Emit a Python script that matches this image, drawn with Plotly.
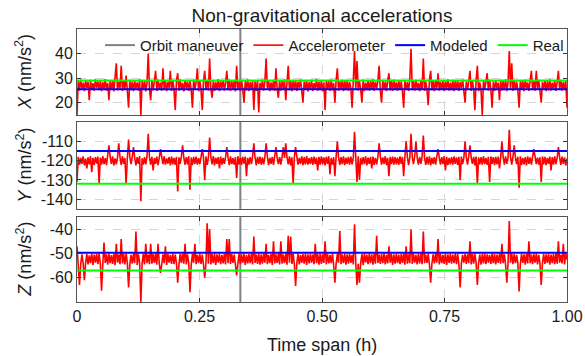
import numpy as np
import plotly.graph_objects as go
from plotly.subplots import make_subplots

# ---------------- data ----------------
acc_x = [15, 28.9, 24.9, 29.4, 25.6, 28.2, 24.7, 29.1, 26.0, 28.6, 21, 29.3, 25.2, 28.0, 24.8, 29.5, 25.9, 28.7, 25.1, 29.0,
         24.7, 28.4, 25.5, 29.6, 24.9, 28.1, 21, 29.2, 25.3, 28.8, 24.6, 29.4, 36, 25.0, 28.5, 25.7, 35, 24.8, 29.1, 25.4,
         31, 24.9, 18, 29.3, 25.1, 28.6, 24.7, 29.0, 25.8, 28.3, 24.9, 29.5, 15, 28.8, 25.2, 29.2, 24.6, 28.0, 40, 25.5,
         21, 29.1, 25.0, 28.7, 33, 24.8, 29.4, 25.6, 28.2, 24.9, 34, 25.3, 29.0, 24.7, 28.5, 25.9, 33, 24.8, 29.3, 25.2,
         17, 28.9, 32, 24.9, 29.5, 25.4, 28.1, 24.6, 29.2, 25.8, 28.6, 24.8, 29.0, 25.1, 18, 29.4, 25.5, 28.3, 34, 24.7,
         29.1, 25.0, 17, 28.8, 33, 25.3, 29.3, 24.9, 38, 25.6, 22, 29.0, 24.8, 28.4, 25.2, 29.6, 24.7, 28.7, 25.9, 29.2,
         24.9, 28.2, 33, 25.1, 29.4, 24.8, 28.9, 25.4, 29.0, 24.6, 35, 25.7, 28.5, 24.9, 29.3, 25.2, 20, 28.8, 25.0, 29.5,
         24.7, 28.4, 25.5, 29.1, 17, 28.7, 24.8, 29.2, 16, 28.1, 25.3, 29.4, 24.9, 28.6, 38, 25.8, 29.0, 24.7, 28.3, 25.1,
         29.3, 24.8, 34, 25.4, 22, 29.1, 24.9, 28.8, 25.6, 29.5, 21, 28.2, 35, 25.0, 29.0, 24.7, 28.9, 25.3, 29.2, 24.8,
         28.5, 25.9, 29.4, 24.9, 20, 28.7, 25.2, 29.1, 24.6, 28.4, 25.5, 29.3, 24.8, 28.0, 25.7, 29.6, 24.9, 28.6, 25.1, 29.0,
         24.7, 28.3, 17, 29.2, 25.4, 28.8, 24.8, 29.4, 25.0, 28.1, 20, 29.1, 34, 24.9, 28.6, 25.6, 29.3, 24.7, 28.9, 25.2,
         29.0, 24.8, 28.4, 25.8, 18, 29.2, 41, 25.3, 37, 24.9, 28.7, 25.5, 20, 29.4, 24.7, 28.2, 25.1, 29.1, 24.9, 28.8,
         25.4, 29.5, 24.8, 28.5, 25.7, 29.0, 35, 24.9, 20, 29.3, 25.2, 28.6, 24.7, 29.1, 32, 25.0, 28.9, 24.8, 29.4, 25.6,
         28.3, 24.9, 29.2, 25.3, 28.7, 24.6, 18, 29.0, 25.5, 28.4, 24.8, 29.6, 42, 25.1, 28.8, 24.9, 29.3, 25.7, 28.1, 24.7,
         29.1, 25.4, 38, 24.8, 28.6, 25.2, 19, 29.4, 33, 25.0, 28.9, 24.7, 29.2, 25.8, 32, 24.9, 28.5, 25.3, 29.0, 24.8,
         28.7, 25.6, 29.5, 24.9, 28.2, 25.1, 29.3, 24.7, 28.8, 25.5, 29.1, 24.8, 28.4, 25.9, 29.4, 24.9, 20, 28.6, 25.2, 29.0,
         33, 24.8, 28.9, 25.4, 17, 29.2, 35, 24.7, 28.3, 25.0, 15, 29.1, 25.6, 28.7, 32, 24.9, 29.4, 25.3, 18, 28.5,
         24.8, 29.0, 25.7, 28.2, 21, 29.3, 24.9, 28.8, 25.1, 29.5, 24.7, 28.4, 41, 25.5, 36, 24.8, 29.1, 25.2, 28.6, 24.9,
         18, 29.2, 25.4, 28.9, 24.7, 29.4, 25.8, 28.3, 24.8, 29.0, 33, 25.1, 28.7, 24.9, 33, 25.6, 29.3, 24.8, 20, 28.5,
         25.3, 29.1, 24.7, 28.8, 25.0, 29.5, 24.9, 28.2, 25.7, 29.0, 24.8, 28.6, 33, 25.4, 29.3, 24.9, 28.4, 25.2, 29.0, 18]

acc_y = [-131, -118.0, -122.1, -118.6, -121.7, -117.8, -122.4, -118.9, -124, -118.3, -121.9, -117.7, -126, -118.5, -122.2, -118.1, -121.5, -117.9, -132, -118.4,
         -122.0, -117.6, -121.8, -118.7, -122.3, -118.2, -112, -118.0, -121.6, -117.8, -122.5, -118.8, -121.9, -118.3, -111, -118.1, -122.2, -117.7, -121.7, -118.6,
         -132, -118.4, -109, -118.0, -121.8, -117.9, -113, -118.5, -122.4, -118.2, -121.6, -117.6, -141, -118.7, -122.0, -118.1, -121.9, -117.8, -106, -118.3,
         -122.1, -118.0, -125, -118.6, -121.7, -117.9, -122.3, -118.4, -114, -118.2, -121.8, -117.7, -122.0, -118.8, -121.5, -118.1, -122.4, -117.9, -121.9, -118.5,
         -122.2, -118.0, -136, -118.3, -121.6, -117.8, -112, -118.6, -122.1, -118.2, -121.9, -117.7, -135, -118.4, -122.3, -118.0, -121.7, -117.9, -122.0, -118.7,
         -121.8, -118.1, -114, -118.3, -130, -117.8, -122.2, -118.5, -108, -118.0, -121.9, -117.6, -122.4, -118.4, -121.6, -118.2, -124, -117.9, -122.0, -118.6,
         -121.7, -118.0, -113, -118.3, -122.3, -117.8, -121.8, -118.7, -122.1, -118.1, -129, -117.7, -121.9, -118.4, -122.2, -118.0, -121.5, -117.9, -128, -118.5,
         -122.0, -118.2, -121.8, -117.6, -111, -118.6, -122.4, -118.0, -121.7, -117.9, -122.1, -118.3, -121.9, -118.1, -111, -117.8, -122.3, -118.5, -121.6, -118.0,
         -122.2, -117.7, -113, -118.4, -121.8, -118.1, -122.0, -117.9, -113, -118.6, -111, -118.2, -121.9, -117.8, -122.4, -118.3, -132, -118.0, -113, -117.9,
         -122.1, -118.5, -121.7, -117.8, -122.3, -118.2, -121.9, -117.6, -122.0, -118.7, -121.6, -118.1, -122.2, -117.9, -121.8, -118.4, -125, -118.0, -122.1, -117.8,
         -121.9, -118.3, -122.4, -118.0, -121.7, -117.7, -127, -118.6, -122.0, -118.2, -128, -117.9, -110, -118.4, -122.2, -118.1, -121.8, -117.8, -122.3, -118.5,
         -121.6, -118.0, -122.1, -117.9, -121.9, -118.3, -105, -118.1, -131, -117.7, -130, -118.6, -122.0, -118.2, -121.8, -117.8, -122.4, -118.4, -121.7, -118.0,
         -124, -117.9, -122.2, -118.5, -121.9, -118.1, -111, -117.8, -122.0, -118.3, -121.6, -117.7, -122.3, -118.6, -128, -118.0, -121.8, -117.9, -122.1, -118.2,
         -121.9, -118.4, -122.2, -117.8, -121.7, -118.1, -128, -118.0, -110, -117.9, -122.3, -118.5, -106, -118.2, -121.8, -117.7, -110, -118.4, -122.0, -118.1,
         -121.6, -117.9, -107, -118.3, -122.2, -118.0, -121.9, -117.8, -122.4, -118.6, -121.7, -118.1, -122.0, -117.9, -114, -118.4, -122.1, -118.2, -121.8, -117.7,
         -125, -118.0, -122.3, -118.5, -121.9, -118.1, -122.0, -117.8, -121.6, -118.3, -122.2, -118.0, -130, -117.9, -121.8, -118.6, -110, -118.2, -122.1, -117.8,
         -112, -118.4, -121.7, -118.0, -122.4, -117.9, -132, -118.3, -121.9, -118.1, -122.0, -117.7, -121.8, -118.5, -122.2, -118.0, -131, -117.8, -121.6, -118.2,
         -122.3, -118.0, -121.9, -117.9, -124, -118.4, -110, -118.1, -122.1, -117.8, -121.7, -118.6, -104, -118.2, -122.0, -117.9, -112, -118.3, -121.8, -118.0,
         -134, -117.7, -122.2, -118.5, -121.9, -118.1, -122.4, -117.8, -121.6, -118.3, -122.0, -118.0, -114, -117.9, -121.8, -118.4, -122.1, -118.2, -131, -117.8,
         -121.9, -118.0, -122.3, -118.5, -121.7, -117.9, -125, -118.1, -122.0, -117.8, -121.8, -118.4, -113, -118.2, -122.2, -117.9, -121.6, -118.3, -122.5, -119.0]

acc_z = [-47, -54.3, -63, -54.6, -50.4, -53.9, -61, -54.1, -50.2, -54.5, -50.8, -54.0, -50.1, -54.7, -50.5, -53.8, -50.3, -54.4, -50.0, -54.2,
         -65.4, -54.5, -45.5, -53.9, -50.4, -54.6, -50.1, -54.0, -50.7, -54.3, -50.2, -54.8, -46, -53.8, -50.5, -54.4, -44, -54.1, -50.3, -54.5,
         -50.0, -53.9, -64, -54.6, -50.6, -54.2, -50.2, -54.0, -41, -54.7, -50.4, -53.8, -70, -54.3, -50.1, -54.5, -46, -54.0, -50.5, -54.4,
         -46, -54.2, -50.3, -53.9, -50.0, -54.6, -46, -54.1, -58, -54.5, -50.4, -54.0, -47, -54.7, -50.2, -53.8, -50.6, -54.3, -50.1, -54.4,
         -50.5, -54.0, -62, -54.6, -50.3, -53.9, -50.0, -54.2, -46, -54.5, -50.4, -54.1, -66, -54.7, -50.2, -53.8, -46, -54.4, -50.6, -54.0,
         -50.1, -54.3, -50.5, -54.6, -60, -53.9, -37.5, -54.2, -40, -54.5, -50.3, -54.0, -50.0, -54.7, -50.4, -53.8, -50.2, -54.4, -50.6, -54.1,
         -50.1, -54.5, -44, -54.0, -44, -54.3, -50.3, -53.9, -50.5, -54.6, -59, -54.2, -50.0, -54.4, -50.4, -53.8, -50.2, -54.7, -50.6, -54.1,
         -50.3, -54.0, -50.1, -54.5, -43, -53.9, -50.5, -54.3, -50.0, -54.6, -50.4, -54.2, -50.2, -53.8, -46, -54.4, -50.6, -54.0, -50.3, -54.7,
         -45, -54.1, -50.4, -53.9, -50.1, -54.5, -45, -54.2, -50.5, -54.0, -50.2, -54.6, -42.7, -53.8, -43, -54.3, -50.3, -54.4, -63.4, -54.0,
         -50.1, -54.5, -50.6, -53.9, -50.3, -54.2, -50.0, -54.7, -50.4, -54.1, -50.2, -53.8, -50.5, -54.4, -46, -54.0, -50.3, -54.6, -50.1, -54.3,
         -50.4, -53.9, -45, -54.5, -50.2, -54.1, -50.6, -54.0, -50.0, -54.7, -62, -54.2, -50.3, -53.8, -40.7, -54.4, -50.5, -54.0, -50.1, -54.6,
         -50.4, -54.2, -50.2, -53.9, -50.6, -54.5, -38, -54.0, -63, -54.3, -62, -54.1, -50.3, -54.7, -50.0, -53.8, -50.5, -54.4, -50.2, -54.0,
         -50.4, -54.6, -50.1, -54.2, -42.7, -53.9, -50.5, -54.3, -50.3, -54.0, -50.0, -54.5, -50.6, -54.1, -47, -53.8, -50.2, -54.7, -50.4, -54.2,
         -50.1, -54.0, -50.5, -54.4, -50.3, -53.9, -50.0, -54.6, -47, -54.2, -50.4, -54.0, -40, -54.3, -50.2, -53.8, -50.6, -54.5, -50.1, -54.1,
         -50.3, -54.4, -41, -54.0, -50.5, -53.9, -50.2, -54.6, -62, -54.2, -50.4, -54.1, -50.0, -53.8, -44, -54.5, -50.3, -54.0, -50.6, -54.3,
         -50.1, -54.7, -50.4, -53.9, -50.2, -54.2, -50.5, -54.0, -50.0, -54.4, -50.3, -54.6, -64, -54.1, -50.6, -53.8, -50.2, -54.3, -50.4, -54.0,
         -45, -54.5, -50.1, -54.2, -50.3, -53.9, -63, -54.0, -50.5, -54.6, -50.2, -54.1, -50.0, -54.4, -50.4, -53.8, -50.6, -54.3, -50.1, -54.0,
         -50.3, -54.5, -50.5, -53.9, -50.2, -54.2, -46, -54.0, -50.4, -54.7, -62, -54.1, -36.6, -53.8, -50.0, -54.4, -50.3, -54.0, -50.6, -54.2,
         -65.7, -54.3, -50.1, -53.9, -50.4, -54.6, -50.2, -54.1, -45, -54.0, -50.5, -54.4, -50.3, -53.8, -50.0, -54.5, -50.6, -54.2, -63, -54.0,
         -50.2, -54.3, -50.4, -53.9, -50.1, -54.6, -50.5, -54.0, -50.3, -54.4, -50.0, -54.2, -45, -53.8, -50.6, -54.1, -46, -54.5, -50.2, -52.5]

modeled = [25.5, -115, -49.7]
real = [29.0, -132, -57.0]
maneuver_time = 1 / 3
axis_names = ["X", "Y", "Z"]
y_ranges = [[15, 50], [-145, -100], [-70, -35]]
y_ticks = [[20, 30, 40], [-140, -130, -120, -110], [-60, -50, -40]]
y_ticktext = [["20", "30", "40"], ["-140", "-130", "-120", "-110"], ["-60", "-50", "-40"]]
x_tickvals = [0, 0.25, 0.5, 0.75, 1.0]
x_ticktext = ["0", "0.25", "0.50", "0.75", "1.00"]

time_h = np.linspace(0, 1, len(acc_x))
series = [acc_x, acc_y, acc_z]

# ---------------- figure ----------------
fig = make_subplots(rows=3, cols=1, shared_xaxes=True)

for k in range(3):
    row = k + 1
    show = (k == 0)
    lo, hi = y_ranges[k]
    fig.add_trace(go.Scatter(x=[maneuver_time, maneuver_time], y=[lo, hi], mode="lines",
                             line=dict(color="#808080", width=2), name="Orbit maneuver",
                             showlegend=show), row=row, col=1)
    fig.add_trace(go.Scatter(x=time_h, y=series[k], mode="lines",
                             line=dict(color="#ff0000", width=1.6), name="Accelerometer",
                             showlegend=show), row=row, col=1)
    fig.add_trace(go.Scatter(x=[0, 1], y=[modeled[k], modeled[k]], mode="lines",
                             line=dict(color="#0000ff", width=2), name="Modeled",
                             showlegend=show), row=row, col=1)
    fig.add_trace(go.Scatter(x=[0, 1], y=[real[k], real[k]], mode="lines",
                             line=dict(color="#00ff00", width=2), name="Real",
                             showlegend=show), row=row, col=1)

domains = [[0.685, 1.0], [0.341, 0.659], [0.0, 0.311]]
axis_common = dict(showline=True, linecolor="#555555", linewidth=1, mirror="ticks",
                   ticks="inside", ticklen=4, tickcolor="#333333",
                   showgrid=True, gridcolor="#d6d6d6", griddash="dash", gridwidth=1,
                   zeroline=False, automargin=False)

annotations = []
for k in range(3):
    sfx = "" if k == 0 else str(k + 1)
    fig.layout["yaxis" + sfx].update(
        domain=domains[k], range=y_ranges[k], tickvals=y_ticks[k], ticktext=y_ticktext[k],
        tickfont=dict(size=16), **axis_common)
    fig.layout["xaxis" + sfx].update(
        range=[0, 1], tickvals=x_tickvals, ticktext=x_ticktext,
        showticklabels=(k == 2), tickfont=dict(size=16), **axis_common)
    annotations.append(dict(text=f"<i>{axis_names[k]}</i> (nm/s<sup>2</sup>)", textangle=-90,
                            xref="paper", yref="paper", x=-0.108, y=sum(domains[k]) / 2,
                            xanchor="center", yanchor="middle", showarrow=False,
                            font=dict(size=18)))

annotations.append(dict(text="Time span (h)", xref="paper", yref="paper", x=0.5, y=-0.158,
                        xanchor="center", yanchor="middle", showarrow=False, font=dict(size=18)))

fig.update_layout(
    width=585, height=356,
    margin=dict(l=77, r=18, t=29, b=54),
    paper_bgcolor="white", plot_bgcolor="white",
    font=dict(family="Liberation Sans, Arial, sans-serif", color="#1a1a1a"),
    title=dict(text="Non-gravitational accelerations", xref="paper", x=0.5, xanchor="center",
               y=0.958, yanchor="middle", font=dict(size=19)),
    legend=dict(orientation="h", x=0.047, xanchor="left", y=0.94, yanchor="middle",
                bgcolor="rgba(0,0,0,0)", font=dict(size=15), tracegroupgap=0,
                itemwidth=30),
    annotations=annotations,
    showlegend=True,
    hovermode=False,
)

# remove the browser's default page margin so the figure sits at the window's corner
fig.write_html("out.html",
               config={"displayModeBar": False, "staticPlot": True},
               post_script="document.body.style.margin='0';"
                           "document.documentElement.style.overflow='hidden';"
                           "document.body.style.overflow='hidden';")
